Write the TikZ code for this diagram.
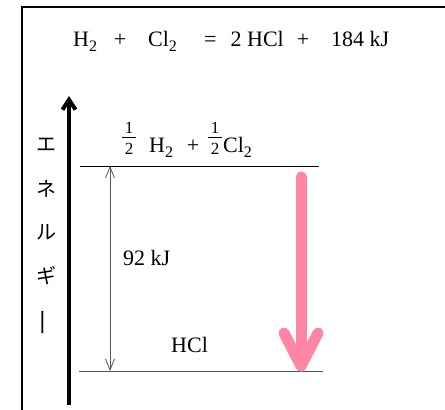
\documentclass[tikz,border=0pt]{standalone}
\usepackage{fontspec}
\setmainfont{Liberation Serif}
\newfontfamily\jpfont{Noto Sans CJK JP}
\usetikzlibrary{arrows.meta}
\definecolor{pinkarrow}{RGB}{255,134,163}
\definecolor{levgray}{RGB}{85,85,85}
\newcommand\sbt[1]{\raisebox{-5pt}{\fontsize{16}{16}\selectfont #1}}
\tikzset{
  txt/.style={inner sep=0pt, font=\fontsize{22}{26}\selectfont},
  dig/.style={inner sep=0pt, font=\fontsize{17}{17}\selectfont},
  kana/.style={inner sep=0pt, font=\jpfont\fontsize{20}{20}\selectfont},
  level/.style={line width=1pt},
}
\begin{document}
\begin{tikzpicture}[x=1pt,y=-1pt]
\useasboundingbox (0,0) rectangle (445,410);
% frame
\draw[line width=2pt] (22,411) -- (22,7) -- (447,7);
% equation
\node[txt, anchor=base west] (e1) at (73,46) {H\sbt{2}};
\node[txt, anchor=base] (e2) at (120,46) {+};
\node[txt, anchor=base west] (e3) at (148,46) {Cl\sbt{2}};
\node[txt, anchor=base west] (e4) at (204,46) {=};
\node[txt, anchor=base east] (e5) at (284,46) {2 HCl};
\node[txt, anchor=base] (e6) at (303,46) {+};
\node[txt, anchor=base west] (e7) at (331,46) {184 kJ};
% energy axis
\coordinate (ebot) at (69,405);
\coordinate (etop) at (69,96);
\draw[line width=4pt, -{Straight Barb[length=10pt,width=13pt]}] (ebot) -- (etop);
\node[kana] (k1) at (46,145) {エ};
\node[kana] (k2) at (46,189) {ネ};
\node[kana] (k3) at (46,232) {ル};
\node[kana] (k4) at (46,276) {ギ};
\node[kana, rotate=90, yscale=1, xscale=1.4] (k5) at (46,322) {ー};
% levels
\coordinate (t1) at (80,166);
\coordinate (t2) at (319,166);
\coordinate (b1) at (79,371);
\coordinate (b2) at (323,371);
\draw[level] (t1) -- (t2);
\draw[level, levgray] (b1) -- (b2);
% top label: 1/2 H2 + 1/2 Cl2
\coordinate (fa1) at (122,137);
\coordinate (fa2) at (136,137);
\draw[line width=0.7pt] (fa1) -- (fa2);
\node[dig] (fn1) at (129,128) {1};
\node[dig] (fd1) at (129,149) {2};
\node[txt, anchor=base west] (th) at (149,152) {H\sbt{2}};
\node[txt, anchor=base] (tp) at (193,152) {+};
\coordinate (fb1) at (208,137);
\coordinate (fb2) at (222,137);
\draw[line width=0.7pt] (fb1) -- (fb2);
\node[dig] (fn2) at (215,128) {1};
\node[dig] (fd2) at (215,149) {2};
\node[txt, anchor=base west] (tc) at (223,152) {Cl\sbt{2}};
\node[txt, anchor=base west] (hcl) at (171,352) {HCl};
% 92 kJ double arrow
\coordinate (d1) at (110,166);
\coordinate (d2) at (110,371);
\draw[levgray, line width=0.8pt, {Straight Barb[length=11pt,width=9pt]}-{Straight Barb[length=11pt,width=9pt]}] (d1) -- (d2);
\node[txt, anchor=base west] (dh) at (123,265) {92 kJ};
% pink arrow
\coordinate (p1) at (301,177);
\coordinate (p2) at (301,366);
\coordinate (pl) at (284,333);
\coordinate (pr) at (318,333);
\draw[pinkarrow, line width=11pt, line cap=round] (p1) -- (p2);
\draw[pinkarrow, line width=11pt, line cap=round, line join=round] (pl) -- (p2) -- (pr);
\end{tikzpicture}
\end{document}
